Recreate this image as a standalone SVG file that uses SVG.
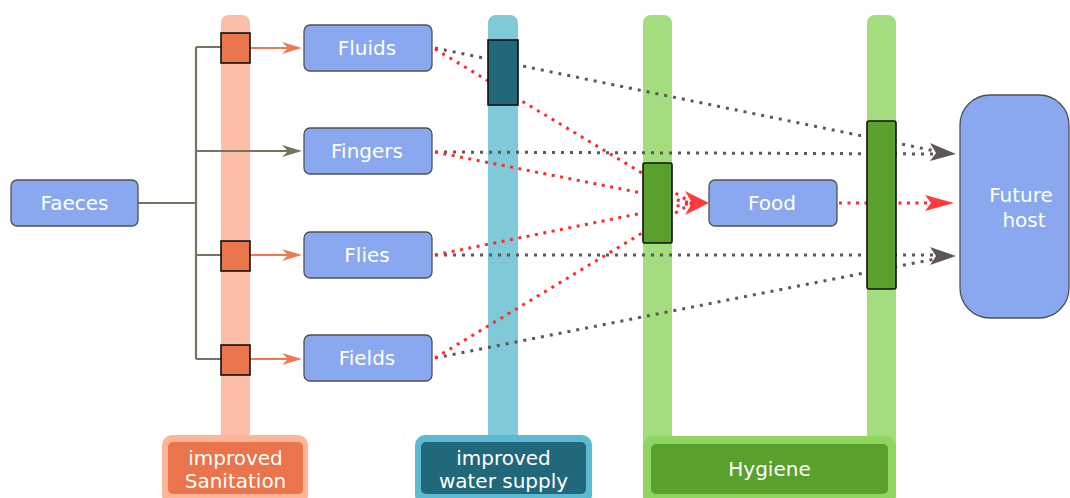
<svg xmlns="http://www.w3.org/2000/svg" width="1070" height="498" viewBox="0 0 1070 498">
  <style>
    .node { fill: #8aa8f0; stroke: #505050; stroke-width: 1.3; }
    .label { font-family: "DejaVu Sans", "Liberation Sans", sans-serif; font-size: 20px; fill: #ffffff; text-anchor: middle; }
    .gray { fill: none; stroke: #5f5757; stroke-width: 3; stroke-dasharray: 3 6; }
    .red { fill: none; stroke: #ff2a2a; stroke-width: 3; stroke-dasharray: 3 5.5; }
    .tree { fill: none; stroke: #76735f; stroke-width: 2.2; }
    .barrier { stroke: #111; stroke-width: 1.6; }
  </style>

  <!-- barrier columns -->
  <g id="columns">
    <rect x="221" y="15" width="29" height="440" rx="8" fill="#fdbea8"/>
    <rect x="488" y="15" width="30" height="440" rx="8" fill="#80c9d9"/>
    <rect x="643" y="15" width="29" height="440" rx="8" fill="#a3dd7e"/>
    <rect x="867" y="15" width="29" height="440" rx="8" fill="#a3dd7e"/>
  </g>

  <!-- legend boxes -->
  <g id="legend-sanitation">
    <rect x="162" y="435" width="146" height="70" rx="10" fill="#fdb497"/>
    <rect x="168" y="442" width="135" height="52" rx="5" fill="#ea744b"/>
    <text class="label" x="235.5" y="465">improved</text>
    <text class="label" x="235.5" y="488">Sanitation</text>
  </g>
  <g id="legend-water">
    <rect x="415" y="435" width="177" height="70" rx="10" fill="#5dbad3"/>
    <rect x="421" y="442" width="165" height="52" rx="5" fill="#21697a"/>
    <text class="label" x="503.5" y="465">improved</text>
    <text class="label" x="503.5" y="488">water supply</text>
  </g>
  <g id="legend-hygiene">
    <rect x="643" y="436" width="253" height="70" rx="10" fill="#8ed65f"/>
    <rect x="651" y="444" width="237" height="50" rx="5" fill="#5aa02c"/>
    <text class="label" x="769.5" y="476">Hygiene</text>
  </g>

  <!-- connectors -->
  <g id="connectors">
    <!-- branching tree from Faeces -->
    <path class="tree" d="M138 203 H196 M196 47 V359 M196 47 H221 M196 151 H290 M196 255 H221 M196 359 H221"/>
    <polygon points="282,145 302,151 282,157 288,151" fill="#76735f"/>
    <g stroke="#ee7a55" stroke-width="2.2" fill="#ee7a55">
      <line x1="250" y1="48" x2="292" y2="48"/>
      <line x1="250" y1="255" x2="292" y2="255"/>
      <line x1="250" y1="359" x2="292" y2="359"/>
      <polygon points="282,42 302,48 282,54 288,48" stroke="none"/>
      <polygon points="282,249 302,255 282,261 288,255" stroke="none"/>
      <polygon points="282,353 302,359 282,365 288,359" stroke="none"/>
    </g>

    <!-- gray routes to the future host -->
    <line class="gray" x1="435" y1="48" x2="940" y2="152"/>
    <line class="gray" x1="435" y1="152" x2="940" y2="154"/>
    <line class="gray" x1="435" y1="255" x2="940" y2="255"/>
    <line class="gray" x1="435" y1="358" x2="940" y2="258"/>
    <polygon points="930,143 956,154 930,161 936,153" fill="#5f5757"/>
    <polygon points="930,247 956,256 930,265 936,256" fill="#5f5757"/>

    <!-- red routes through food -->
    <line class="red" x1="435" y1="49" x2="692" y2="203"/>
    <line class="red" x1="435" y1="152" x2="692" y2="203"/>
    <line class="red" x1="435" y1="255" x2="692" y2="203"/>
    <line class="red" x1="435" y1="358" x2="692" y2="203"/>
    <polygon points="685,191 709,203 685,215 692,203" fill="#ff3b3b"/>
    <line class="red" x1="839" y1="203" x2="935" y2="203"/>
    <polygon points="925,195 954,203 925,211 931,203" fill="#ff3b3b"/>
  </g>

  <!-- barrier blocks -->
  <g id="barriers">
    <rect class="barrier" x="221" y="33" width="29" height="30" fill="#ea744b"/>
    <rect class="barrier" x="221" y="241" width="29" height="30" fill="#ea744b"/>
    <rect class="barrier" x="221" y="345" width="29" height="30" fill="#ea744b"/>
    <rect class="barrier" x="488" y="40" width="30" height="65" fill="#21697a"/>
    <rect class="barrier" x="643" y="163" width="29" height="80" rx="1.5" fill="#5aa02c"/>
    <rect class="barrier" x="867" y="121" width="29" height="168" rx="2" fill="#5aa02c"/>
  </g>

  <!-- nodes -->
  <g id="faeces">
    <rect class="node" x="11" y="180" width="127" height="46" rx="6"/>
    <text class="label" x="74.5" y="210">Faeces</text>
  </g>
  <g id="fluids">
    <rect class="node" x="304" y="25" width="128" height="46" rx="6"/>
    <text class="label" x="367" y="55">Fluids</text>
  </g>
  <g id="fingers">
    <rect class="node" x="304" y="128" width="128" height="46" rx="6"/>
    <text class="label" x="367" y="158">Fingers</text>
  </g>
  <g id="flies">
    <rect class="node" x="304" y="232" width="128" height="46" rx="6"/>
    <text class="label" x="367" y="262">Flies</text>
  </g>
  <g id="fields">
    <rect class="node" x="304" y="335" width="128" height="46" rx="6"/>
    <text class="label" x="367" y="365">Fields</text>
  </g>
  <g id="food">
    <rect class="node" x="709" y="180" width="128" height="46" rx="6"/>
    <text class="label" x="772" y="210">Food</text>
  </g>
  <g id="future-host">
    <rect class="node" x="960" y="95" width="109" height="223" rx="30"/>
    <text class="label" x="1021" y="202">Future</text>
    <text class="label" x="1024" y="227">host</text>
  </g>
</svg>
